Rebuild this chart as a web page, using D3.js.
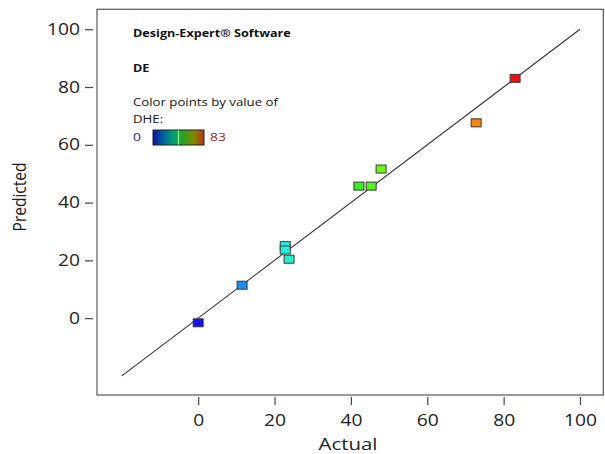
<!DOCTYPE html>
<html><head><meta charset="utf-8">
<script src="https://cdn.jsdelivr.net/npm/d3@7"></script>
<style>body{margin:0;background:#fff}svg{display:block}text{font-family:"Open Sans",sans-serif}</style>
</head><body><svg id="c" width="605" height="454"></svg>
<script>
const actual    = [0, 11.5, 22.8, 22.8, 23.8, 42.1, 45.3, 47.9, 72.8, 83];
const predicted = [-1.6, 11.4, 25.1, 23.6, 20.4, 45.7, 45.7, 51.6, 67.6, 83.0];
const tickValues = [0, 20, 40, 60, 80, 100];
const xDomain = [-26.5, 106.1];
const yDomain = [-26.6, 106.9];
const fitLine = [-20, 100];
const dheRange = [0, 83];
const pointColors = ["#1212f0", "#20f0f0", "#30f020", "#ffff10", "#f01010"];
const legendColors = ["#10109a", "#0060a0", "#00a070", "#30a020", "#7a8a00", "#c03010"];
const legendLines = ["Design-Expert® Software", "DE", "Color points by value of", "DHE:"];

const STRETCH = 1.2;
const svg = d3.select("#c");
const L = 97, R = 603.3, T = 9.3, B = 395;
const x = d3.scaleLinear().domain(xDomain).range([L, R]);
const y = d3.scaleLinear().domain(yDomain).range([B, T]);

function stretch(sel){
  sel.each(function(){ const w = this.getComputedTextLength(); d3.select(this).attr("textLength", w*STRETCH).attr("lengthAdjust","spacingAndGlyphs"); });
}

// box
svg.append("rect").attr("x", L).attr("y", T).attr("width", R-L).attr("height", B-T)
  .attr("fill","none").attr("stroke","#555").attr("stroke-width",1.2);

// axes
const xAxis = d3.axisBottom(x).tickValues(tickValues).tickSize(8).tickPadding(10);
const gx = svg.append("g").attr("transform", `translate(0,${B+2})`).call(xAxis);
gx.select(".domain").remove();
gx.selectAll("line").attr("stroke","#444").attr("stroke-width",1.2);
gx.selectAll("text").attr("font-size",16).attr("fill","#222").attr("font-family","Open Sans").call(stretch);

const yAxis = d3.axisLeft(y).tickValues(tickValues).tickSize(8).tickPadding(5);
const gy = svg.append("g").attr("transform", `translate(${L-4},0)`).call(yAxis);
gy.select(".domain").remove();
gy.selectAll("line").attr("stroke","#444").attr("stroke-width",1.2);
gy.selectAll("text").attr("font-size",16).attr("fill","#222").attr("font-family","Open Sans").call(stretch);

// axis titles
svg.append("text").attr("x", 348).attr("y", 450).attr("text-anchor","middle")
  .attr("font-size",17).attr("fill","#222").text("Actual").call(stretch);
svg.append("text").attr("transform","translate(26,197) scale(1.2,1) rotate(-90)").attr("text-anchor","middle")
  .attr("font-size",15.5).attr("fill","#222").text("Predicted");

// fit line
svg.append("line").attr("x1", x(fitLine[0])).attr("y1", y(fitLine[0]))
  .attr("x2", x(fitLine[1])).attr("y2", y(fitLine[1]))
  .attr("stroke","#333").attr("stroke-width",1.1);

// points
const color = d3.scaleLinear()
  .domain(pointColors.map((_, i) => dheRange[0] + i*(dheRange[1]-dheRange[0])/(pointColors.length-1)))
  .range(pointColors).clamp(true);
const pts = actual.map((a, i) => ({a, p: predicted[i]}));
svg.append("g").selectAll("rect").data(pts).join("rect")
  .attr("x", d => x(d.a) - 5).attr("y", d => y(d.p) - 4)
  .attr("width", 10).attr("height", 8)
  .attr("fill", d => color(d.a)).attr("stroke","#3a3a3a").attr("stroke-width",1);

// legend text
const lg = svg.append("g");
const ly = [36.5, 71.5, 106, 122.5];
legendLines.forEach((t, i) => {
  lg.append("text").attr("x", 133).attr("y", ly[i]).attr("font-size", i < 2 ? 10.5 : 11)
    .attr("font-weight", i < 2 ? "bold" : "normal").attr("fill","#111").text(t).call(stretch);
});
lg.append("text").attr("x",133).attr("y",140.5).attr("font-size",11.5).attr("fill","#22227a").text(dheRange[0]).call(stretch);
lg.append("text").attr("x",210).attr("y",140.5).attr("font-size",11.5).attr("fill","#9a1c1c").text(dheRange[1]).call(stretch);

const defs = svg.append("defs");
const grad = defs.append("linearGradient").attr("id","lgd");
legendColors.forEach((c, i) => grad.append("stop").attr("offset", i/(legendColors.length-1)).attr("stop-color", c));
svg.append("rect").attr("x",153).attr("y",130).attr("width",51).attr("height",15)
  .attr("fill","url(#lgd)").attr("stroke","#222").attr("stroke-width",1);
svg.append("line").attr("x1",178.5).attr("x2",178.5).attr("y1",130.5).attr("y2",144.5)
  .attr("stroke","#90ff90").attr("stroke-width",1.2);
</script></body></html>
